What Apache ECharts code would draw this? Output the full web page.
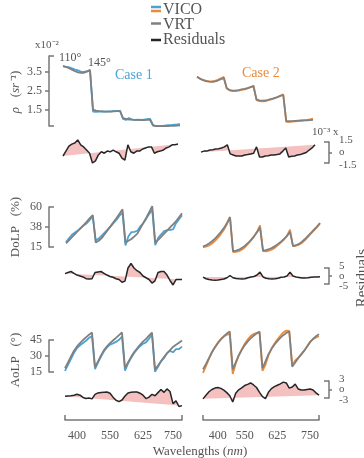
<!DOCTYPE html>
<html><head><meta charset="utf-8">
<script src="https://cdn.jsdelivr.net/npm/echarts@6/dist/echarts.min.js"></script>
<style>html,body{margin:0;padding:0;background:#fff}#c{width:364px;height:458px}</style>
</head><body><div id="c"></div>
<script>
// sample index: 4 viewing-angle segments x 10 wavelengths
const sampleIdx = Array.from({length: 40}, (_, i) => i);
const xTickLabels = ['400', '550', '625', '750'];
const xTickIdxLeft = [4, 15, 26, 36];
const xTickIdxRight = [5, 14, 25, 36];

// rho (x10^-2 sr^-1)
const rhoVrt1 = [3.82,3.76,3.70,3.62,3.54,3.48,3.45,3.46,3.52,3.60, 1.52,1.47,1.44,1.43,1.42,1.42,1.42,1.43,1.44,1.46, 1.08,1.04,1.00,0.99,0.98,0.98,0.97,0.97,0.98,0.99, 0.68,0.66,0.65,0.65,0.66,0.66,0.67,0.67,0.68,0.69];
const rhoVico1 = [3.79,3.77,3.75,3.69,3.62,3.58,3.52,3.51,3.54,3.60, 1.42,1.40,1.42,1.43,1.42,1.43,1.43,1.45,1.45,1.46, 1.03,0.98,1.08,1.00,0.98,0.99,0.98,1.00,1.02,1.04, 0.72,0.66,0.66,0.66,0.68,0.70,0.71,0.73,0.74,0.76];
const rhoVrt2 = [3.25,3.15,3.07,3.02,2.99,2.98,3.00,3.05,3.12,3.18, 2.64,2.55,2.52,2.53,2.55,2.58,2.61,2.65,2.70,2.74, 2.06,2.01,1.99,2.00,2.04,2.08,2.13,2.18,2.24,2.29, 0.92,0.91,0.92,0.93,0.94,0.95,0.96,0.96,0.97,0.98];
const rhoVico2 = [3.25,3.16,3.08,3.04,3.01,3.01,3.03,3.09,3.16,3.24, 2.63,2.53,2.49,2.50,2.52,2.56,2.59,2.64,2.70,2.79, 2.02,1.97,1.96,1.97,2.02,2.06,2.11,2.17,2.25,2.33, 0.88,0.88,0.89,0.91,0.92,0.94,0.96,0.98,1.01,1.05];
// rho residuals (x10^-3)
const rhoRes1 = [-0.5,0.2,0.9,1.2,1.35,1.8,1.1,0.8,0.35,-0.1, -1.5,-1.2,-0.35,0.1,-0.1,0.2,0.1,0.35,0.1,-0.1, -0.8,-1.1,1.1,0.1,-0.1,0.2,0.2,0.5,0.65,0.8, 0.8,-0.1,0.1,0.2,0.35,0.65,0.8,1.1,1.1,1.2];
const rhoRes2 = [0.05,0.2,0.2,0.35,0.4,0.5,0.55,0.65,0.8,1.1, -0.2,-0.35,-0.5,-0.5,-0.5,-0.35,-0.3,-0.2,-0.1,0.8, -0.65,-0.65,-0.5,-0.45,-0.35,-0.35,-0.3,-0.2,0.2,0.65, -0.65,-0.55,-0.5,-0.35,-0.3,-0.15,0,0.35,0.65,1.1];

// DoLP (%)
const dolpVrt1 = [19.0,22.5,26.0,29.5,33.0,36.5,40.0,43.5,47.5,51.0, 20.0,22.0,25.0,29.5,34.0,38.5,43.0,47.5,52.5,57.5, 20.0,22.0,24.0,27.0,30.0,36.0,42.0,48.0,54.5,61.0, 20.0,23.0,26.5,30.0,33.5,37.0,40.5,44.0,48.5,53.0];
const dolpVico1 = [20.5,24.7,28.8,31.2,33.6,36.5,39.4,41.8,45.6,49.3, 22.2,24.5,27.8,31.2,34.6,38.2,42.2,45.8,50.3,53.6, 16.8,27.0,31.8,32.0,33.3,38.2,42.0,46.9,52.3,56.6, 17.0,25.2,29.3,32.8,34.1,34.2,34.9,41.8,46.3,50.8];
const dolpRes1 = [1.5,2.2,2.8,1.7,0.6,0,-0.6,-1.7,-1.9,-1.7, 2.2,2.5,2.8,1.7,0.6,-0.3,-0.8,-1.7,-2.2,-3.9, -3.2,5.0,7.8,5.0,3.3,2.2,0,-1.1,-2.2,-4.4, -3.0,2.2,2.8,2.8,0.6,-2.8,-5.6,-2.2,-2.2,-2.2];
const dolpVrt2 = [15.5,17.0,19.0,21.5,24.5,28.0,32.0,36.5,42.0,48.5, 10.5,11.0,12.0,14.0,16.5,19.5,23.0,27.0,31.5,37.0, 11.0,11.5,12.5,14.0,16.0,18.5,21.0,24.0,27.5,32.0, 16.0,17.0,18.5,21.0,24.0,27.5,31.0,34.5,38.0,42.0];
const dolpVico2 = [14.8,15.3,16.8,19.0,21.9,25.5,29.8,34.6,40.9,48.8, 9.4,9.5,10.3,12.2,14.8,18.4,22.4,26.7,32.1,39.4, 10.4,10.1,10.8,12.2,14.3,17.1,20.2,23.4,27.5,34.4, 16.0,16.4,17.6,19.7,22.7,26.4,30.2,33.8,37.4,41.6];
const dolpRes2 = [-0.7,-1.7,-2.2,-2.5,-2.6,-2.5,-2.2,-1.9,-1.1,0.3, -1.1,-1.5,-1.7,-1.8,-1.7,-1.1,-0.6,-0.3,0.6,2.4, -0.6,-1.4,-1.7,-1.8,-1.7,-1.4,-0.8,-0.6,0,2.4, 0,-0.6,-0.9,-1.3,-1.3,-1.1,-0.8,-0.7,-0.6,-0.4];

// AoLP (deg)
const aolpVrt1 = [18.5,24,29.5,35,39,42,45,47.5,50,52, 19.5,25,30.5,35.5,39,42,44.5,47,49.5,52, 18.5,24,29,33.5,37,40.5,43.5,46,49,52, 17.5,21,25,29,32.5,35.5,38.5,40.5,42.5,44.5];
const aolpVico1 = [16.1,21.7,27.3,33.0,37.3,40.0,42.2,44.3,47.0,48.7, 17.8,23.8,29.4,34.5,38.1,40.7,41.8,43.2,45.2,48.3, 16.2,22.8,28.0,32.6,36.1,39.2,41.5,42.8,46.3,50.3, 15.3,19.9,25.0,28.0,32.7,34.8,33.5,36.5,36.5,38.8];
const aolpRes1 = [-2.4,-2.3,-2.2,-2,-1.7,-2,-2.8,-3.2,-3,-3.3, -1.7,-1.2,-1.1,-1,-0.9,-1.3,-2.7,-3.8,-4.3,-3.7, -2.3,-1.2,-1,-0.9,-0.9,-1.3,-2,-3.2,-2.7,-1.7, -2.2,-1.1,0,-1,0.2,-0.7,-5,-4,-6,-5.7];
const aolpVrt2 = [17.5,22.5,28,33.5,38,42,45.5,48.5,51,53, 17.5,24,30.5,35.5,40,43.5,46.5,49,51,53, 18.5,25,31.5,36.5,40.5,44,47,49.5,51.5,53, 20,24,28,31.5,35,39,43,46,48.5,50.5];
const aolpVico2 = [14.2,20.5,27.2,33.5,38.5,42.7,45.9,48.3,49.9,50.8, 13.1,22.7,30.4,36.1,41.4,45.3,48.8,50.6,51.7,52.0, 16.0,21.8,30.5,36.8,41.5,45.5,49.0,52.1,53.8,53.5, 20.9,25.9,28.2,31.3,34.8,39.0,43.2,45.8,47.3,48.5];
const aolpRes2 = [-3.3,-2,-0.8,0,0.5,0.7,0.4,-0.2,-1.1,-2.2, -4.4,-1.3,-0.1,0.6,1.4,1.8,2.3,1.6,0.7,-1, -2.5,-3.2,-1,0.3,1,1.5,2,2.6,2.3,0.5, 0.9,1.9,0.2,-0.2,-0.2,0,0.2,-0.2,-1.2,-2];

// residual bracket labels
const rhoResTicks = [-1.5, 0, 1.5], rhoResLabels = ['-1.5', 'o', '1.5'];
const dolpResTicks = [-5, 0, 5], dolpResLabels = ['-5', 'o', '5'];
const aolpResTicks = [-3, 0, 3], aolpResLabels = ['-3', 'o', '3'];

const F = 'Liberation Serif';
const AX = '#777';
const TXT = '#555';
const BLUE = '#4ba3d3', ORANGE = '#ed8a3a', GRAY = '#808080', BLACK = '#262626', PINK = '#f5c0c0';

const grids = [], xAxes = [], yAxes = [], series = [];
function addGrid(left, top, width, height) {
  grids.push({left, top, width, height, outerBoundsMode: 'none'});
  const g = grids.length - 1;
  xAxes.push({gridIndex: g, type: 'category', data: sampleIdx, boundaryGap: false, show: false});
  return g;
}
function addY(g, extra) {
  yAxes.push(Object.assign({gridIndex: g, type: 'value', splitLine: {show: false}}, extra));
  return yAxes.length - 1;
}
const lineSt = {color: AX, width: 1.5};
function leftAxes(g, min, max, ticks, fmt, offset) {
  const yi = addY(g, {min, max, position: 'left', offset,
    axisLine: {show: true, lineStyle: lineSt},
    axisTick: {show: true, length: 4, customValues: ticks.filter(t => t !== min && t !== max), lineStyle: lineSt},
    axisLabel: {show: true, customValues: ticks, formatter: fmt, margin: 7, hideOverlap: false,
      color: TXT, fontFamily: F, fontSize: 12}});
  addY(g, {min, max, position: 'left', offset, axisLine: {show: false},
    axisTick: {show: true, inside: true, length: 5, customValues: [min, max], lineStyle: lineSt},
    axisLabel: {show: false}});
  return yi;
}
const rightLabelJobs = [];
function rightAxes(g, lim, labelVals, labelTexts, offset) {
  const yi = addY(g, {min: -lim, max: lim, position: 'right', offset,
    axisLine: {show: true, lineStyle: lineSt},
    axisTick: {show: true, length: 3, customValues: [0], lineStyle: lineSt},
    axisLabel: {show: false}});
  addY(g, {min: -lim, max: lim, position: 'right', offset, axisLine: {show: false},
    axisTick: {show: true, inside: true, length: 5, customValues: [-lim, lim], lineStyle: lineSt},
    axisLabel: {show: false}});
  rightLabelJobs.push({g, yi, x: grids[g].left + grids[g].width + offset + 10, labelVals, labelTexts});
  return yi;
}
function hiddenY(g, min, max) { return addY(g, {min, max, show: false}); }
function line(g, yi, data, color, width, z) {
  series.push({type: 'line', xAxisIndex: g, yAxisIndex: yi, data, symbol: 'none', showSymbol: false,
    clip: false, silent: true, z, lineStyle: {color, width}, emphasis: {disabled: true}});
}
function fill(g, yi, data) {
  series.push({type: 'custom', xAxisIndex: g, yAxisIndex: yi, data: [[0, 0]], clip: false, silent: true, z: 1,
    renderItem: (p, api) => ({type: 'polygon',
      shape: {points: data.map((v, i) => api.coord([i, v]))},
      style: {fill: PINK}})});
}
function bottomAxis(g, tickIdx) {
  Object.assign(xAxes[g], {show: true, offset: 21,
    axisLine: {show: true, onZero: false, lineStyle: lineSt},
    axisTick: {show: true, inside: true, length: 5, interval: i => i === 0 || i === sampleIdx.length - 1, lineStyle: lineSt},
    axisLabel: {show: true, interval: i => tickIdx.includes(i), formatter: (v, i) => xTickLabels[tickIdx.indexOf(i)],
      margin: 10, color: TXT, fontFamily: F, fontSize: 12}});
}

// rho row
let g, yi;
g = addGrid(63, 56, 117, 70); yi = leftAxes(g, 0.66, 4.34, [1.5, 2.5, 3.5], v => v.toFixed(1), 14);
line(g, yi, rhoVico1, BLUE, 1.8, 2); line(g, yi, rhoVrt1, GRAY, 1.8, 3);
g = addGrid(197, 56, 116, 70); yi = hiddenY(g, 0.66, 4.34);
line(g, yi, rhoVico2, ORANGE, 1.8, 2); line(g, yi, rhoVrt2, GRAY, 1.8, 3);
g = addGrid(63, 142, 115, 21); yi = hiddenY(g, -1.5, 1.5);
fill(g, yi, rhoRes1); line(g, yi, rhoRes1, BLACK, 1.5, 3);
g = addGrid(201, 142, 114, 21); yi = rightAxes(g, 1.5, rhoResTicks, rhoResLabels, 14);
fill(g, yi, rhoRes2); line(g, yi, rhoRes2, BLACK, 1.5, 3);

// DoLP row
g = addGrid(66, 207, 116, 40); yi = leftAxes(g, 15, 60, [15, 38, 60], v => String(v), 17);
line(g, yi, dolpVico1, BLUE, 1.8, 2); line(g, yi, dolpVrt1, GRAY, 1.8, 3);
g = addGrid(203, 207, 117, 40); yi = hiddenY(g, 15, 60);
line(g, yi, dolpVico2, ORANGE, 1.8, 2); line(g, yi, dolpVrt2, GRAY, 1.8, 3);
g = addGrid(65, 268, 117, 16); yi = hiddenY(g, -5, 5);
fill(g, yi, dolpRes1); line(g, yi, dolpRes1, BLACK, 1.5, 3);
g = addGrid(203, 268, 117, 16); yi = rightAxes(g, 5, dolpResTicks, dolpResLabels, 9);
fill(g, yi, dolpRes2); line(g, yi, dolpRes2, BLACK, 1.5, 3);

// AoLP row
g = addGrid(65, 340, 117, 32); yi = leftAxes(g, 15, 45, [15, 30, 45], v => String(v), 16);
line(g, yi, aolpVico1, BLUE, 1.8, 2); line(g, yi, aolpVrt1, GRAY, 1.8, 3);
g = addGrid(203, 340, 116, 32); yi = hiddenY(g, 15, 45);
line(g, yi, aolpVico2, ORANGE, 1.8, 2); line(g, yi, aolpVrt2, GRAY, 1.8, 3);
g = addGrid(65, 381, 117, 17); yi = hiddenY(g, -3, 3);
fill(g, yi, aolpRes1); line(g, yi, aolpRes1, BLACK, 1.5, 3); bottomAxis(g, xTickIdxLeft);
xAxes[g].offset = 22;
g = addGrid(203, 381, 116, 17); yi = rightAxes(g, 3, aolpResTicks, aolpResLabels, 10);
fill(g, yi, aolpRes2); line(g, yi, aolpRes2, BLACK, 1.5, 3); bottomAxis(g, xTickIdxRight);
xAxes[g].offset = 22;

function txt(text, x, y, o) {
  o = o || {};
  return {type: 'text', x, y, rotation: o.rot || 0, silent: true, z: 10,
    style: {text, fill: o.color || TXT, fontSize: o.size || 12, fontFamily: F, fontStyle: o.italic ? 'italic' : 'normal',
      align: o.align || 'left', textAlign: o.align || 'left', verticalAlign: 'middle', textVerticalAlign: 'middle',
      rich: o.rich}};
}
function seg(x1, y1, x2, y2, color) {
  return {type: 'line', silent: true, z: 10, shape: {x1, y1, x2, y2}, style: {stroke: color, lineWidth: 2.5}};
}
const ital = {i: {fontStyle: 'italic', fontFamily: F, fontSize: 13, fill: TXT, color: TXT}};
const graphic = [
  seg(151, 7, 161, 7, BLUE), seg(151, 11, 161, 11, ORANGE),
  seg(151, 23.5, 161, 23.5, GRAY), seg(151, 40, 161, 40, BLACK),
  txt('VICO', 163, 9.5, {size: 16}), txt('VRT', 163, 24.5, {size: 16}), txt('Residuals', 163, 40, {size: 16}),
  txt('x10⁻²', 35, 45, {size: 11}),
  txt('110°', 59, 58, {size: 12}), txt('145°', 88, 63, {size: 12}),
  txt('Case 1', 115, 75, {size: 14, color: BLUE}), txt('Case 2', 242, 73, {size: 14, color: ORANGE}),
  txt('10⁻³ x', 312, 132, {size: 11}),
  txt('{i|ρ}   ({i|sr⁻¹})', 16, 92, {size: 13, rot: Math.PI / 2, align: 'center', rich: ital}),
  txt('DoLP   (%)', 16, 227, {size: 13, rot: Math.PI / 2, align: 'center'}),
  txt('AoLP   (°)', 16, 360, {size: 13, rot: Math.PI / 2, align: 'center'}),
  txt('Residuals', 362, 278, {size: 15, rot: Math.PI / 2, align: 'center'}),
  txt('Wavelengths ({i|nm})', 200, 452, {size: 13, align: 'center', rich: ital})
];

const chart = echarts.init(document.getElementById('c'), null, {renderer: 'canvas'});
chart.setOption({animation: false, grid: grids, xAxis: xAxes, yAxis: yAxes, series, graphic});

// bracket labels of the residual axes, placed through the axis scale
rightLabelJobs.forEach(job => {
  job.labelVals.forEach((v, k) => {
    const y = chart.convertToPixel({yAxisIndex: job.yi}, v);
    const spread = v > 0 ? -2 : (v < 0 ? 2 : 0);
    graphic.push(txt(job.labelTexts[k], job.x, y + spread, {size: 11}));
  });
});
chart.setOption({graphic});
</script>
</body></html>
